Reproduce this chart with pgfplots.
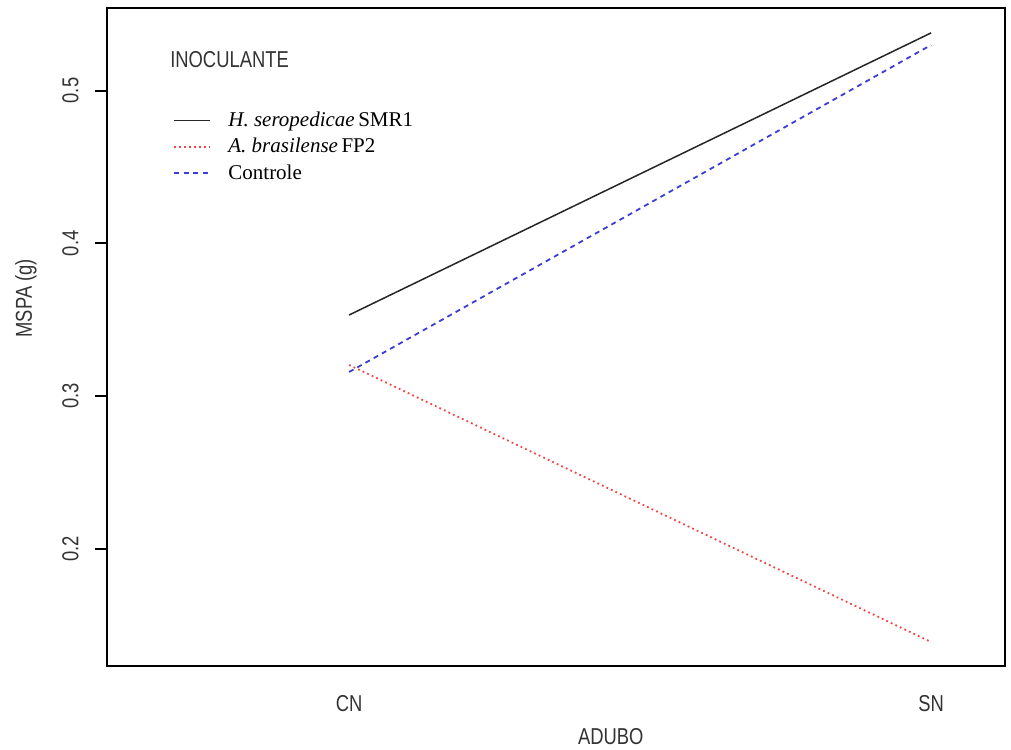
\documentclass[border=0pt]{standalone}
\usepackage{fontspec}
\setmainfont{Liberation Sans}
\newfontfamily\rsans[FakeStretch=0.8]{Liberation Sans}
\newfontfamily\rserif{Liberation Serif}
\usepackage{pgfplots}
\pgfplotsset{compat=1.18}

\definecolor{rred}{RGB}{240,70,70}
\definecolor{rblue}{RGB}{60,60,215}

\begin{document}
\begin{tikzpicture}
\begin{axis}[
    name=ax,
    scale only axis,
    width=449pt,
    height=329pt,
    xmin=0.584, xmax=2.127,
    ymin=0.1234, ymax=0.554,
    xtick={1,2},
    xticklabels={CN,SN},
    ytick={0.2,0.3,0.4,0.5},
    axis line style={line width=0.7pt},
    tick align=outside,
    major tick length=6pt,
    tick style={black, line width=1pt},
    xtick style={draw=none},
    ytick pos=left,
    /pgf/number format/assume math mode=true,
    /pgf/number format/fixed,
    /pgf/number format/precision=1,
    ticklabel style={font=\rsans\fontsize{11.5}{13}\selectfont, text=black!80},
    yticklabel style={xshift=-8pt, rotate=90, anchor=south, inner sep=0pt},
    xticklabel style={anchor=north, inner sep=0pt, yshift=-8.5pt},
    xlabel={ADUBO},
    ylabel={MSPA (g)},
    label style={font=\rsans\fontsize{11.5}{13}\selectfont, text=black!80},
    xlabel style={at={(axis description cs:0.561,-0.1079)}, anchor=center},
    ylabel style={at={(axis description cs:-0.0902,0.559)}, anchor=center},
    legend style={
        at={(axis description cs:0.0735,0.848)},
        anchor=north west,
        draw=none, fill=none,
        inner sep=0pt,
        font=\rserif\fontsize{10.5}{12}\selectfont,
        row sep=1.25pt,
        nodes={inner sep=1.6pt},
    },
    legend cell align=left,
    legend image code/.code={\draw[#1] (0pt,0pt) -- (18pt,0pt);},
    clip=false,
]
\addplot[black!85, line width=0.75pt] coordinates {(1,0.3531) (2,0.5377)};
\addlegendentry{\hspace{7pt}\textit{H. seropedicae}\,SMR1}
\addplot[rred, line width=0.9pt, dash pattern=on 0.9pt off 1.6pt] coordinates {(1,0.3204) (2,0.1391)};
\addlegendentry{\hspace{7pt}\textit{A. brasilense}\,FP2}
\addplot[rblue, line width=0.9pt, dash pattern=on 2.5pt off 2.2pt] coordinates {(1,0.3158) (2,0.5298)};
\addlegendentry{\hspace{7pt}Controle}
\node[anchor=west, inner sep=0pt, font=\rsans\fontsize{11.5}{13}\selectfont, text=black!80]
    at (axis description cs:0.07,0.921) {INOCULANTE};
\end{axis}
\pgfresetboundingbox
\path[use as bounding box] ([shift={(-53.5pt,-41.5pt)}]ax.south west) rectangle ([shift={(3pt,4pt)}]ax.north east);
\end{tikzpicture}
\end{document}
